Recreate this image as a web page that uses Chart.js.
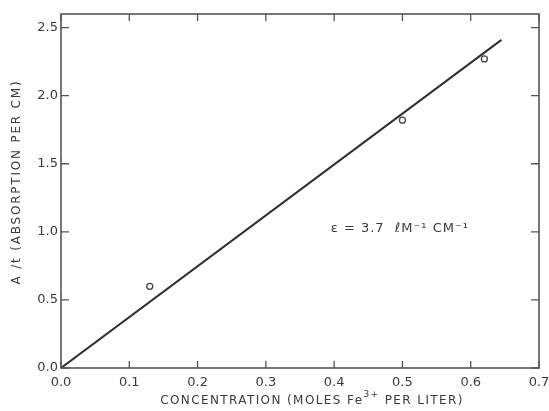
<!DOCTYPE html>
<html>
<head>
<meta charset="utf-8">
<script src="https://cdn.jsdelivr.net/npm/chart.js@4"></script>
<style>
  html, body { margin: 0; padding: 0; background: #fff; }
  #wrap { width: 549px; height: 411px; }
</style>
</head>
<body>
<div id="wrap"><canvas id="myChart" width="549" height="411"></canvas></div>
<script>
// measured points
const conc = [0.13, 0.50, 0.62];
const absorb = [0.60, 1.82, 2.27];

// fitted line, eps = 3.7
const fitConc = [0, 0.645];
const fitAbsorb = [0, 2.41];

const xTicks = [0, 0.1, 0.2, 0.3, 0.4, 0.5, 0.6, 0.7];
const yTicks = [0, 0.5, 1.0, 1.5, 2.0, 2.5];

const ink = '#3a3a3a';
const FONT = '"DejaVu Sans", sans-serif';

const framePlugin = {
    id: 'frame',
    afterDatasetsDraw(chart) {
        const ctx = chart.ctx;
        const a = chart.chartArea;
        const xs = chart.scales.x;
        const ys = chart.scales.y;
        ctx.save();
        ctx.strokeStyle = '#555';
        ctx.lineWidth = 1.6;
        ctx.strokeRect(a.left, a.top, a.right - a.left, a.bottom - a.top);

        // inward tick marks on all four sides
        ctx.lineWidth = 1.3;
        ctx.beginPath();
        xTicks.forEach(v => {
            const px = xs.getPixelForValue(v);
            ctx.moveTo(px, a.bottom); ctx.lineTo(px, a.bottom - 7);
            ctx.moveTo(px, a.top); ctx.lineTo(px, a.top + 7);
        });
        yTicks.forEach(v => {
            const py = ys.getPixelForValue(v);
            ctx.moveTo(a.left, py); ctx.lineTo(a.left + 8, py);
            ctx.moveTo(a.right, py); ctx.lineTo(a.right - 8, py);
        });
        ctx.stroke();

        // annotation
        ctx.fillStyle = ink;
        ctx.font = '13px ' + FONT;
        ctx.textBaseline = 'middle';
        ctx.textAlign = 'left';
        ctx.letterSpacing = '1px';
        ctx.fillText('\u03B5 = 3.7  \u2113M\u207B\u00B9 CM\u207B\u00B9', xs.getPixelForValue(0.395), ys.getPixelForValue(1.02));

        // x axis title with superscript
        ctx.letterSpacing = '1.4px';
        const cx = (a.left + a.right) / 2 + 12;
        const ty = 401;
        ctx.font = '12px ' + FONT;
        const p1 = 'CONCENTRATION (MOLES Fe';
        const p2 = '3+';
        const p3 = ' PER LITER)';
        const w1 = ctx.measureText(p1).width;
        ctx.font = '9px ' + FONT;
        const w2 = ctx.measureText(p2).width;
        ctx.font = '12px ' + FONT;
        const w3 = ctx.measureText(p3).width;
        let x0 = cx - (w1 + w2 + w3) / 2;
        ctx.fillText(p1, x0, ty);
        ctx.font = '9px ' + FONT;
        ctx.fillText(p2, x0 + w1, ty - 6);
        ctx.font = '12px ' + FONT;
        ctx.fillText(p3, x0 + w1 + w2, ty);

        // y axis title
        ctx.letterSpacing = '1.8px';
        ctx.translate(17, 182);
        ctx.rotate(-Math.PI / 2);
        ctx.textAlign = 'center';
        ctx.fillText('A /t (ABSORPTION PER CM)', 0, 0);
        ctx.restore();
    }
};

const data = {
    datasets: [{
        type: 'line',
        label: 'fit',
        data: fitConc.map((c, i) => ({x: c, y: fitAbsorb[i]})),
        borderColor: '#2e2e2e',
        borderWidth: 2,
        pointRadius: 0,
        fill: false,
    }, {
        type: 'scatter',
        label: 'measured',
        data: conc.map((c, i) => ({x: c, y: absorb[i]})),
        pointStyle: 'circle',
        pointRadius: 3,
        pointBorderWidth: 1.3,
        pointBackgroundColor: 'rgba(0,0,0,0)',
        pointBorderColor: '#444',
    }]
};

const options = {
    responsive: false,
    animation: false,
    layout: { padding: { top: 14, right: 10, left: 0, bottom: 0 } },
    plugins: {
        legend: { display: false },
        tooltip: { enabled: false },
    },
    scales: {
        x: {
            type: 'linear',
            min: 0,
            max: 0.7,
            afterBuildTicks: s => { s.ticks = xTicks.map(v => ({value: v})); },
            afterFit: s => { s.height = 43; s.paddingLeft = 0; s.paddingRight = 0; },
            grid: { display: false, drawTicks: false },
            border: { display: false },
            ticks: {
                padding: 7,
                color: ink,
                font: { family: FONT, size: 13 },
                maxRotation: 0,
                callback: v => v.toFixed(1),
            },
        },
        y: {
            type: 'linear',
            min: 0,
            max: 2.6,
            afterBuildTicks: s => { s.ticks = yTicks.map(v => ({value: v})); },
            afterFit: s => { s.width = 61; s.paddingTop = 0; s.paddingBottom = 0; },
            grid: { display: false, drawTicks: false },
            border: { display: false },
            ticks: {
                padding: 3,
                color: ink,
                font: { family: FONT, size: 13 },
                callback: v => v.toFixed(1),
            },
        }
    }
};

const myChart = new Chart(
    document.getElementById('myChart'),
    { data: data, options: options, plugins: [framePlugin] }
);
</script>
</body>
</html>
